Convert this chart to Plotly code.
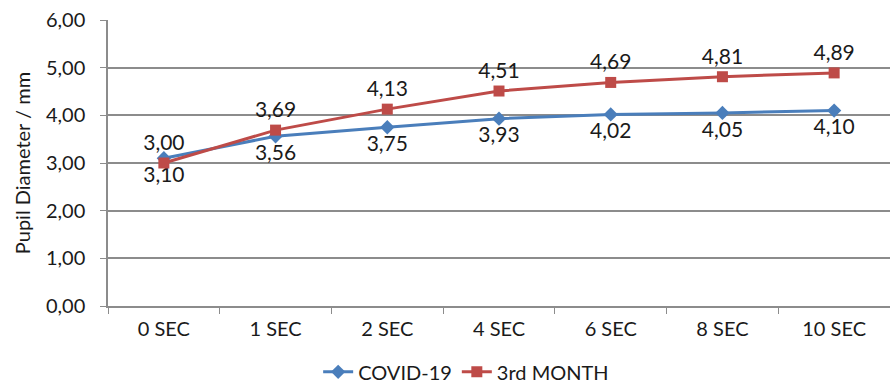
import plotly.graph_objects as go

# Pupil diameter measurements over time
time_points = ["0 SEC", "1 SEC", "2 SEC", "4 SEC", "6 SEC", "8 SEC", "10 SEC"]
covid_19 = [3.10, 3.56, 3.75, 3.93, 4.02, 4.05, 4.10]
third_month = [3.00, 3.69, 4.13, 4.51, 4.69, 4.81, 4.89]

FONT = "Lato, Open Sans, sans-serif"
BLUE = "#4A7EBB"
RED = "#BE4B48"
GRID = "#8C8C8C"

fig = go.Figure()
fig.add_trace(go.Scatter(
    x=time_points, y=covid_19, name="COVID-19",
    mode="lines+markers+text",
    line=dict(color=BLUE, width=3),
    marker=dict(symbol="diamond", size=11, color=BLUE),
    texttemplate="%{y:.2f}", textposition="bottom center",
    textfont=dict(size=21, color="#1a1a1a", family=FONT),
))
fig.add_trace(go.Scatter(
    x=time_points, y=third_month, name="3rd MONTH",
    mode="lines+markers+text",
    line=dict(color=RED, width=3),
    marker=dict(symbol="square", size=11, color=RED),
    texttemplate="%{y:.2f}", textposition="top center",
    textfont=dict(size=21, color="#1a1a1a", family=FONT),
))

fig.update_layout(
    width=890, height=384,
    margin=dict(l=108, r=0, t=20, b=78, autoexpand=False),
    paper_bgcolor="white", plot_bgcolor="white",
    separators=",.",
    font=dict(family=FONT, size=20, color="#1a1a1a"),
    showlegend=True,
    legend=dict(orientation="h", x=0.458, xanchor="center", y=-0.23, yanchor="middle",
                font=dict(size=20), tracegroupgap=0),
    xaxis=dict(
        type="category", tickson="boundaries", ticks="outside", ticklen=6,
        tickcolor=GRID, showline=True, linecolor=GRID, linewidth=1.5,
        showgrid=False, tickfont=dict(size=20), range=[-0.5, 6.5],
        automargin=False, ticklabelstandoff=4,
    ),
    yaxis=dict(
        range=[0, 6], dtick=1, tickformat=".2f", ticks="outside", ticklen=6,
        tickcolor=GRID, showline=True, linecolor=GRID, linewidth=1.5,
        showgrid=True, gridcolor=GRID, gridwidth=1.5, zeroline=False,
        tickfont=dict(size=20), automargin=False, ticklabelstandoff=11,
        title=dict(text="Pupil Diameter / mm", font=dict(size=20), standoff=10),
    ),
)

fig.write_html("out.html")
